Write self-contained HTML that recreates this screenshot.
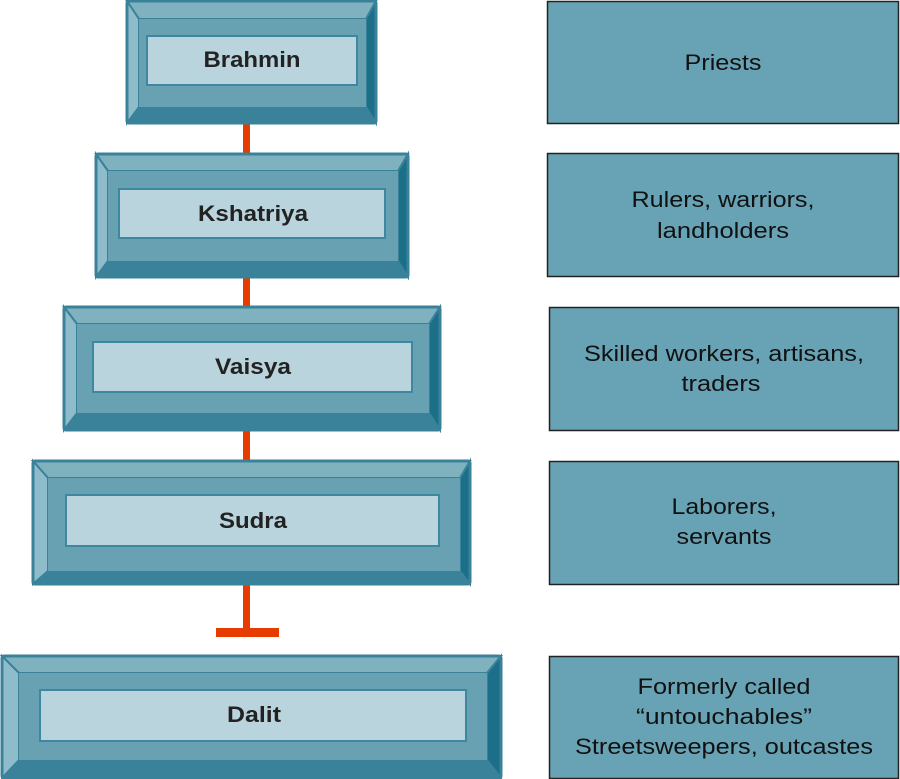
<!DOCTYPE html>
<html><head><meta charset="utf-8"><style>
html,body{margin:0;padding:0;background:#fff;}
svg{display:block;}
.b{font-family:"Liberation Sans",sans-serif;font-weight:bold;font-size:22px;fill:#222;text-anchor:middle;}
.r{font-family:"Liberation Sans",sans-serif;font-size:22px;fill:#111;text-anchor:middle;}
.top{fill:#80b1bf;} .lft{fill:#8fbccb;} .rgt{fill:#1b6f89;} .bot{fill:#3a8299;} .face{fill:#67a1b2;}
.lab{fill:#b9d4dc;stroke:#3d88a0;stroke-width:2;}
.edge{fill:none;stroke:#3a8299;stroke-width:3;}
.seam{stroke:#3a8299;stroke-width:2;}
.rb{fill:#67a3b4;stroke:#222;stroke-width:1.5;}
</style></head><body>
<svg width="900" height="779" viewBox="0 0 900 779" xmlns="http://www.w3.org/2000/svg">
<g fill="#e63c00">
<rect x="243" y="122" width="7" height="33"/>
<rect x="243" y="276" width="7" height="32"/>
<rect x="243" y="429" width="7" height="33"/>
<rect x="243" y="582" width="7" height="48"/>
<rect x="216" y="628" width="63" height="9"/>
</g>

<g>
<rect x="127" y="1" width="249" height="122" class="bot"/>
<polygon class="top seam" points="127,1 376,1 366,19 139,19"/>
<polygon class="lft seam" points="127,1 139,19 139,107 127,123"/>
<polygon class="rgt seam" points="376,1 376,123 366,107 366,19"/>
<rect x="139" y="19" width="227" height="88" class="face"/>
<rect x="127" y="1" width="249" height="122" rx="2" class="edge"/>
<rect x="147" y="36" width="210" height="49" class="lab"/>
<text x="252" y="67" class="b" textLength="97" lengthAdjust="spacingAndGlyphs">Brahmin</text>
</g>
<g>
<rect x="96" y="154" width="312" height="123" class="bot"/>
<polygon class="top seam" points="96,154 408,154 398,171 108,171"/>
<polygon class="lft seam" points="96,154 108,171 108,261 96,277"/>
<polygon class="rgt seam" points="408,154 408,277 398,261 398,171"/>
<rect x="108" y="171" width="290" height="90" class="face"/>
<rect x="96" y="154" width="312" height="123" rx="2" class="edge"/>
<rect x="119" y="189" width="266" height="49" class="lab"/>
<text x="253" y="221" class="b" textLength="110" lengthAdjust="spacingAndGlyphs">Kshatriya</text>
</g>
<g>
<rect x="64" y="307" width="376" height="123" class="bot"/>
<polygon class="top seam" points="64,307 440,307 429,324 77,324"/>
<polygon class="lft seam" points="64,307 77,324 77,413 64,430"/>
<polygon class="rgt seam" points="440,307 440,430 429,413 429,324"/>
<rect x="77" y="324" width="352" height="89" class="face"/>
<rect x="64" y="307" width="376" height="123" rx="2" class="edge"/>
<rect x="93" y="342" width="319" height="50" class="lab"/>
<text x="253" y="374" class="b" textLength="76" lengthAdjust="spacingAndGlyphs">Vaisya</text>
</g>
<g>
<rect x="33" y="461" width="437" height="123" class="bot"/>
<polygon class="top seam" points="33,461 470,461 460,478 48,478"/>
<polygon class="lft seam" points="33,461 48,478 48,571 33,584"/>
<polygon class="rgt seam" points="470,461 470,584 460,571 460,478"/>
<rect x="48" y="478" width="412" height="93" class="face"/>
<rect x="33" y="461" width="437" height="123" rx="2" class="edge"/>
<rect x="66" y="495" width="373" height="51" class="lab"/>
<text x="253" y="528" class="b" textLength="68" lengthAdjust="spacingAndGlyphs">Sudra</text>
</g>
<g>
<rect x="2" y="656" width="499" height="122" class="bot"/>
<polygon class="top seam" points="2,656 501,656 487,673 19,673"/>
<polygon class="lft seam" points="2,656 19,673 19,760 2,778"/>
<polygon class="rgt seam" points="501,656 501,778 487,760 487,673"/>
<rect x="19" y="673" width="468" height="87" class="face"/>
<rect x="2" y="656" width="499" height="122" rx="2" class="edge"/>
<rect x="40" y="690" width="426" height="51" class="lab"/>
<text x="254" y="722" class="b" textLength="54" lengthAdjust="spacingAndGlyphs">Dalit</text>
</g>

<rect x="547.5" y="1.5" width="351" height="122" class="rb"/>
<text x="723" y="70" class="r" textLength="77" lengthAdjust="spacingAndGlyphs">Priests</text>

<rect x="547.5" y="153.5" width="351" height="123" class="rb"/>
<text x="723" y="207" class="r" textLength="183" lengthAdjust="spacingAndGlyphs">Rulers, warriors,</text>
<text x="723" y="238" class="r" textLength="132" lengthAdjust="spacingAndGlyphs">landholders</text>

<rect x="549.5" y="307.5" width="349" height="123" class="rb"/>
<text x="724" y="361" class="r" textLength="280" lengthAdjust="spacingAndGlyphs">Skilled workers, artisans,</text>
<text x="721" y="391" class="r" textLength="79" lengthAdjust="spacingAndGlyphs">traders</text>

<rect x="549.5" y="461.5" width="349" height="123" class="rb"/>
<text x="724" y="514" class="r" textLength="105" lengthAdjust="spacingAndGlyphs">Laborers,</text>
<text x="724" y="544" class="r" textLength="95" lengthAdjust="spacingAndGlyphs">servants</text>

<rect x="549.5" y="656.5" width="349" height="122" class="rb"/>
<text x="724" y="694" class="r" textLength="173" lengthAdjust="spacingAndGlyphs">Formerly called</text>
<text x="724" y="724" class="r" textLength="176" lengthAdjust="spacingAndGlyphs">“untouchables”</text>
<text x="724" y="754" class="r" textLength="298" lengthAdjust="spacingAndGlyphs">Streetsweepers, outcastes</text>
</svg>
</body></html>
